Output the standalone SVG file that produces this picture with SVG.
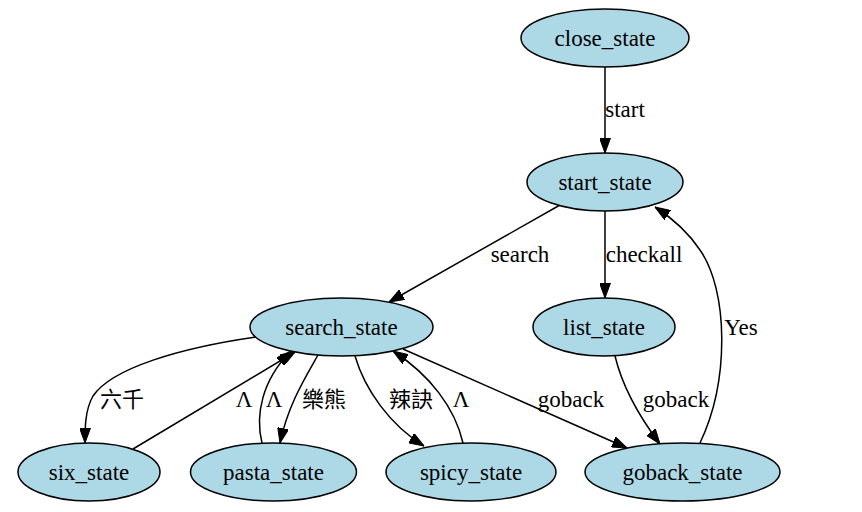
<svg xmlns="http://www.w3.org/2000/svg" width="862" height="512" viewBox="0 0 862 512">
<style>
.node ellipse{fill:#add8e6;stroke:#000;stroke-width:1.5}
text{font-family:'Liberation Serif',serif;font-size:23px;fill:#000;text-anchor:middle}
text.cjk{font-family:'Liberation Serif','Noto Sans CJK TC',serif;font-size:22px}
.edges path{fill:none;stroke:#000;stroke-width:1.5}
</style>
<defs>
<marker id="arr" viewBox="0 0 15 11" refX="15" refY="5.5" markerWidth="15" markerHeight="11" markerUnits="userSpaceOnUse" orient="auto">
<path d="M0,0 L15,5.5 L0,11 z" fill="#000" stroke="#000" stroke-width="1"/>
</marker>
</defs>
<rect width="862" height="512" fill="#fff"/>
<g class="edges" id="edges">
<path d="M605,67 L605,153" marker-end="url(#arr)"/>
<path d="M605,211 L605,298" marker-end="url(#arr)"/>
<path d="M560,205 L389,302" marker-end="url(#arr)"/>
<path d="M700,443 C730,380 728,290 700,250 C688,232 672,218 655,207" marker-end="url(#arr)"/>
<path d="M615,356 C622,385 638,415 660,444" marker-end="url(#arr)"/>
<path d="M403,349 L627,448" marker-end="url(#arr)"/>
<path d="M256,337 C180,348 112,368 93,396 C85,410 85,428 85,443" marker-end="url(#arr)"/>
<path d="M133,449 L295,352" marker-end="url(#arr)"/>
<path d="M262,443 C255,415 262,380 291,351" marker-end="url(#arr)"/>
<path d="M318,355 C305,378 288,405 280,443" marker-end="url(#arr)"/>
<path d="M355,356 C365,390 390,425 424,446" marker-end="url(#arr)"/>
<path d="M463,443 C455,408 430,375 393,351" marker-end="url(#arr)"/>
<text x="625" y="117">start</text>
<text x="520" y="262">search</text>
<text x="644" y="262">checkall</text>
<text x="741" y="335">Yes</text>
<text x="676" y="407">goback</text>
<text x="571" y="407">goback</text>
<text class="cjk" x="122" y="407">六千</text>
<text x="244" y="407">Λ</text>
<text x="274" y="407">Λ</text>
<text class="cjk" x="324" y="407">樂熊</text>
<text class="cjk" x="411" y="407">辣訣</text>
<text x="461" y="407">Λ</text>
</g>
<g class="node" id="close_state"><ellipse cx="605" cy="38" rx="84" ry="29"/><text x="605" y="46">close_state</text></g>
<g class="node" id="start_state"><ellipse cx="605" cy="182" rx="78" ry="29"/><text x="605" y="190">start_state</text></g>
<g class="node" id="search_state"><ellipse cx="341.5" cy="327" rx="91.5" ry="29"/><text x="341.5" y="335">search_state</text></g>
<g class="node" id="list_state"><ellipse cx="604" cy="327" rx="71" ry="29"/><text x="604" y="335">list_state</text></g>
<g class="node" id="six_state"><ellipse cx="89" cy="472" rx="71" ry="29"/><text x="89" y="480">six_state</text></g>
<g class="node" id="pasta_state"><ellipse cx="273.5" cy="472" rx="83" ry="29"/><text x="273.5" y="480">pasta_state</text></g>
<g class="node" id="spicy_state"><ellipse cx="471" cy="472" rx="85" ry="29"/><text x="471" y="480">spicy_state</text></g>
<g class="node" id="goback_state"><ellipse cx="682.5" cy="472" rx="97.5" ry="29"/><text x="682.5" y="480">goback_state</text></g>
</svg>
